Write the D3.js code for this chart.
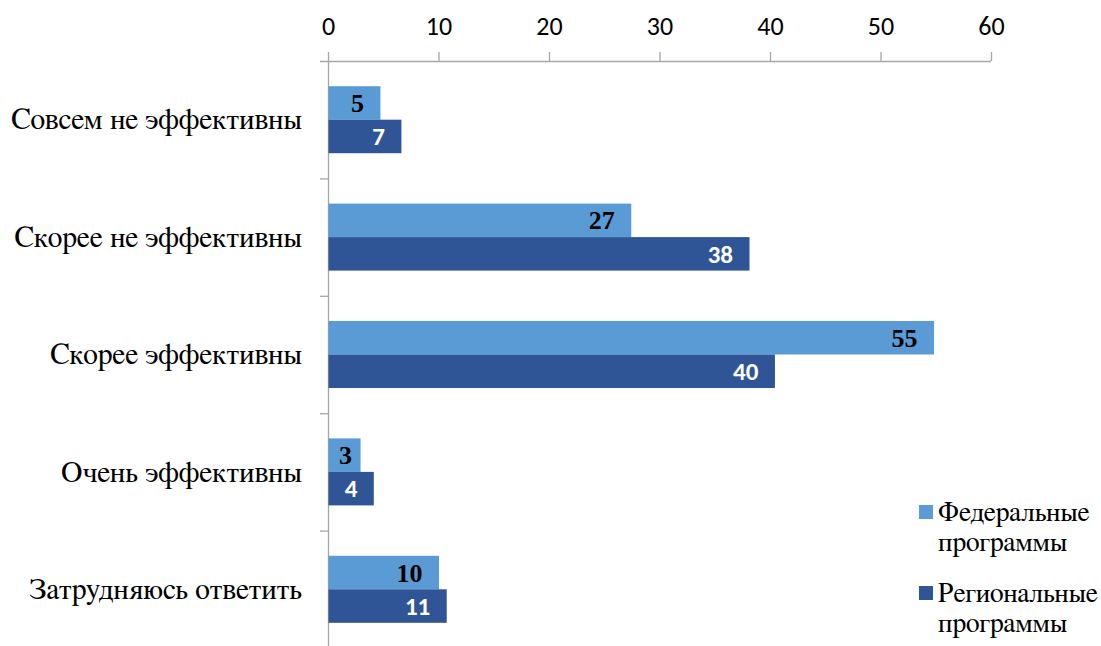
<!DOCTYPE html>
<html>
<head>
	<meta charset="utf-8">
	<script src="https://cdn.jsdelivr.net/npm/d3@7/dist/d3.min.js"></script>
</head>
<style type="text/css">
	body { margin:0; background:#fff; }
</style>
<body>
</body>
</html>
<script type="text/javascript">
	var width = 1101, height = 646;
	var margin = {left:328, right:110, top:61, bottom:-2};

	var categories = ["Совсем не эффективны", "Скорее не эффективны", "Скорее эффективны", "Очень эффективны", "Затрудняюсь ответить"];
	var federal = [4.7, 27.4, 54.8, 2.9, 10.0];
	var regional = [6.6, 38.1, 40.4, 4.1, 10.7];
	var seriesNames = [["Федеральные", "программы"], ["Региональные", "программы"]];
	var colors = ["#5b9bd5", "#2f5597"];
	var xTicks = [0, 10, 20, 30, 40, 50, 60];

	var serif = "FreeSerif, 'Times New Roman', serif";
	var digits = "'Liberation Serif', 'Times New Roman', serif";
	var sans = "Carlito, Calibri, Lato, sans-serif";
	var w = 991 - margin.left;
	var h = height - margin.top - margin.bottom;

	var svg = d3.select("body").append("svg").attr("width", width).attr("height", height);
	var g = svg.append("g").attr("transform", "translate(" + margin.left + "," + margin.top + ")");

	var x = d3.scaleLinear().domain([0, 60]).range([0, w]);
	var y = d3.scaleBand().domain(categories).range([0, h]).padding(0);
	var barH = 33.5;
	var fmt = d3.format(".0f");

	// top axis
	var xa = g.append("g").call(d3.axisTop(x).tickValues(xTicks).tickSize(9).tickSizeOuter(0));
	xa.select(".domain").attr("stroke", "#a6a6a6").attr("stroke-width", 1.3).attr("d", "M-8,0.5H" + w);
	xa.selectAll(".tick line").attr("stroke", "#a6a6a6").attr("stroke-width", 1.3);
	xa.selectAll(".tick text").attr("font-family", sans).attr("font-size", 26)
		.attr("fill", "#000").attr("y", -26).attr("dy", 0);

	// left axis with ticks at band edges
	g.append("line").attr("x1", 0.5).attr("x2", 0.5).attr("y1", 0).attr("y2", h).attr("stroke", "#a6a6a6").attr("stroke-width", 1.3);
	g.selectAll(".cat-tick").data(categories.slice(1)).enter().append("line")
		.attr("x1", -8).attr("x2", 0).attr("y1", function(d){return y(d) + 0.5}).attr("y2", function(d){return y(d) + 0.5})
		.attr("stroke", "#a6a6a6").attr("stroke-width", 1.3);
	g.selectAll(".cat-label").data(categories).enter().append("text")
		.attr("x", -26).attr("y", function(d){return y(d) + y.bandwidth()/2})
		.attr("dy", "0.33em").attr("text-anchor", "end")
		.attr("font-family", serif).attr("font-size", 29.6)
		.text(function(d){return d});

	var series = [federal, regional];
	series.forEach(function(vals, s) {
		var rows = categories.map(function(c, i){return {c:c, v:vals[i]}});
		g.selectAll(".bar" + s).data(rows).enter().append("rect")
			.attr("x", 0.5)
			.attr("y", function(d){return y(d.c) + y.bandwidth()/2 - barH + s*barH})
			.attr("width", function(d){return x(d.v)})
			.attr("height", barH)
			.attr("fill", colors[s]);
		g.selectAll(".lab" + s).data(rows).enter().append("text")
			.attr("x", function(d){return Math.max(x(d.v) - 16, 24)})
			.attr("y", function(d){return y(d.c) + y.bandwidth()/2 - barH + s*barH + barH/2})
			.attr("dy", "0.35em").attr("text-anchor", "end")
			.attr("font-weight", "bold")
			.attr("font-family", s == 0 ? digits : sans)
			.attr("font-size", s == 0 ? 26 : 25)
			.attr("fill", s == 0 ? "#000" : "#fff")
			.text(function(d){return fmt(d.v)});
	});

	// legend
	var legY = [505, 586];
	var leg = svg.selectAll(".leg").data(seriesNames).enter().append("g")
		.attr("transform", function(d, i){return "translate(919," + legY[i] + ")"});
	leg.append("rect").attr("width", 14).attr("height", 14).attr("fill", function(d, i){return colors[i]});
	leg.append("text").attr("x", 19).attr("y", 16)
		.attr("font-family", serif).attr("font-size", 27.5)
		.selectAll("tspan").data(function(d){return d}).enter().append("tspan")
		.attr("x", 19).attr("dy", function(d, i){return i == 0 ? 0 : 30})
		.text(function(d){return d});
</script>
